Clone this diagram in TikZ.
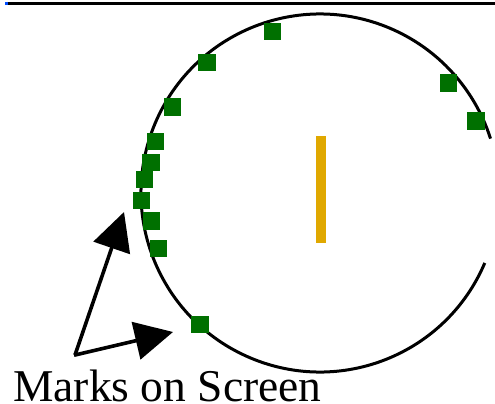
\documentclass[tikz,border=0pt]{standalone}
\usepackage{fontspec}
\setmainfont{Liberation Serif}
\usetikzlibrary{arrows.meta}
\definecolor{markgreen}{RGB}{0,112,0}
\definecolor{bargold}{RGB}{224,168,0}
\tikzset{
  markbox/.style={fill=markgreen, minimum size=17.5pt, inner sep=0pt},
  pointer/.style={line width=3.6pt, -{Triangle[length=38pt,width=38pt]}}
}
\begin{document}
\begin{tikzpicture}[x=1pt, y=-1pt]

% Frame of the picture
\useasboundingbox (0,0) rectangle (495,404);
\clip (0,0) rectangle (495,404);

% Top rule
\fill[blue!70!cyan] (5,2) rectangle (8,5);
\fill (8,2) rectangle (495,5);

% Screen circle, open on the right
\draw[line width=3pt] (320,193) ++(23:179) arc[start angle=23, end angle=342.3, radius=179];

% Source in the middle
\fill[bargold] (316,136) rectangle (326,243);

% Marks on the screen
\foreach \px/\py [count=\i] in {272.5/31.5, 207/62.5, 172.5/107, 155.5/141.5, 151/162.5,
    144.5/179.5, 141.5/200.5, 151.5/221, 158.5/248.5, 200/324.5, 448.5/83, 476/121}
  \node[markbox] (mark\i) at (\px,\py) {};

% Label and pointers
\node[anchor=base west, inner sep=0pt, font=\fontsize{45.5}{45.5}\selectfont] (label) at (13,401) {Marks on Screen};
\coordinate (tail) at (75,355);
\coordinate (tipA) at (124,212);
\coordinate (tipB) at (173,332);
\draw[pointer] (tail) -- (tipA);
\draw[pointer, shorten <=-1pt] (tail) -- (tipB);
\end{tikzpicture}
\end{document}
